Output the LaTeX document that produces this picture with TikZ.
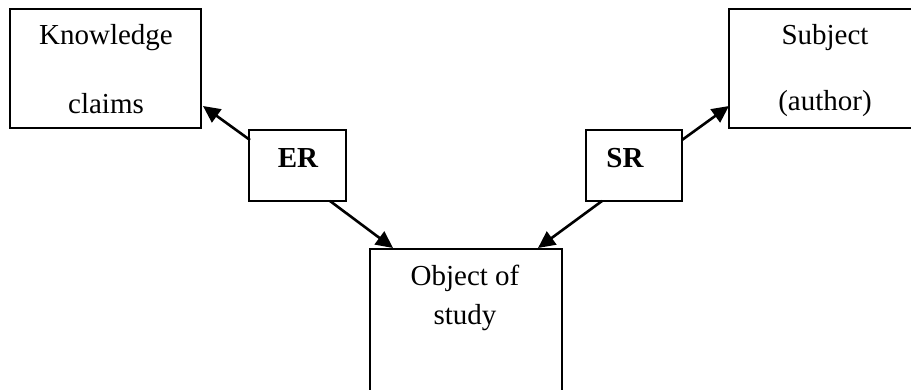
\documentclass[tikz,border=0pt]{standalone}
\usepackage{fontspec}
\setmainfont{Liberation Serif}
\usetikzlibrary{arrows.meta}
\begin{document}
\begin{tikzpicture}[x=1pt,y=-1pt,
  box/.style={draw,line width=2.2pt},
  lbl/.style={font=\fontsize{29}{34}\selectfont,inner sep=0pt,anchor=center},
  bl/.style={font=\fontsize{29}{34}\selectfont\bfseries,inner sep=0pt,anchor=center},
  conn/.style={line width=2.6pt,-{Triangle[length=17pt,width=16pt]}}]
\useasboundingbox (0,0) rectangle (911,389);
\clip (0,0) rectangle (911,389);
% boxes
\draw[box] (10,9) rectangle (201,128);
\draw[box] (729,9) rectangle (940,128);
\draw[box] (249,130) rectangle (346,201);
\draw[box] (586,130) rectangle (682,201);
\draw[box] (370,249) rectangle (562,420);
% anchor points on the box edges
\coordinate (kc) at (203,106);
\coordinate (erl) at (250,140);
\coordinate (sb) at (729,106);
\coordinate (srr) at (682,140);
\coordinate (erb) at (330,201);
\coordinate (srb) at (602,201);
\coordinate (obl) at (393,248);
\coordinate (obr) at (538,248);
% labels
\node[lbl] (k1) at (106,38) {Knowledge};
\node[lbl] (k2) at (106,104) {claims};
\node[lbl] (s1) at (825,38) {Subject};
\node[lbl] (s2) at (825,104) {(author)};
\node[bl] (er) at (298,158) {ER};
\node[bl] (sr) at (625,158) {SR};
\node[lbl] (o1) at (465,278) {Object of};
\node[lbl] (o2) at (465,318) {study};
% connectors
\draw[conn] (erl) -- (kc);
\draw[conn] (srr) -- (sb);
\draw[conn] (erb) -- (obl);
\draw[conn] (srb) -- (obr);
\end{tikzpicture}
\end{document}
